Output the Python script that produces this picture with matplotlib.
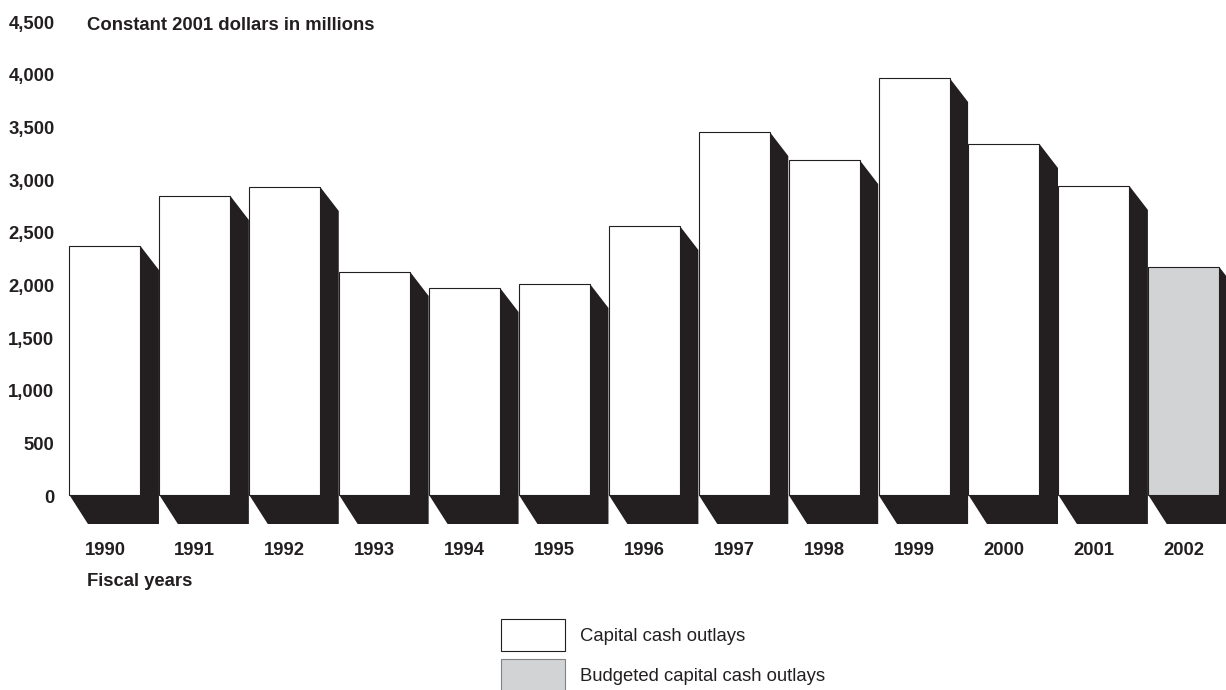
import matplotlib
matplotlib.use('Agg')
import matplotlib.pyplot as plt
import matplotlib.patches as mpatches
from matplotlib.transforms import ScaledTranslation

plt.rcParams['font.family'] = ['Liberation Sans', 'DejaVu Sans']

years = ['1990', '1991', '1992', '1993', '1994', '1995', '1996',
         '1997', '1998', '1999', '2000', '2001', '2002']
outlays = [2362, 2837, 2922, 2116, 1964, 2002, 2552,
           3444, 3178, 3956, 3330, 2932, 2163]
y_ticks = [0, 500, 1000, 1500, 2000, 2500, 3000, 3500, 4000, 4500]

DARK = '#231f20'
GREY = '#d1d3d4'
W, H = 1226, 690

# pixel scale of the original
px_per_year = 89.9
px_per_unit = 0.1054
bar_width = 71 / px_per_year
side_dx = 18.5 / px_per_year
top_dy = 24 / px_per_unit
floor_dy = 29 / px_per_unit

fig = plt.figure(figsize=(W / 100, H / 100), dpi=100)
ax = fig.add_axes([60 / W, 1 - 530 / H, (W - 60) / W, 530 / H])
ax.set_xlim(-0.5, (W - 105) / px_per_year)
ax.set_ylim(-35 / px_per_unit, 495 / px_per_unit)

colors = ['white'] * 12 + [GREY]
for i, v in enumerate(outlays):
    l = i - bar_width / 2
    r = i + bar_width / 2
    # dark extruded side and floor
    ax.fill([r, r + side_dx, r + side_dx, l + side_dx, l, r],
            [v, v - top_dy, -floor_dy, -floor_dy, 0, 0],
            color=DARK, lw=0, zorder=1)
ax.bar(range(len(years)), outlays, width=bar_width, color=colors,
       edgecolor=DARK, linewidth=0.8, zorder=2)

for s in ax.spines.values():
    s.set_visible(False)
ax.set_xticks(range(len(years)), years)
ax.set_yticks(y_ticks, [f'{t:,}' for t in y_ticks])
ax.tick_params(length=0, labelcolor=DARK, labelsize=13.3)
ax.tick_params(axis='x', pad=8.5)
ax.tick_params(axis='y', pad=4)
for lab in ax.get_xticklabels() + ax.get_yticklabels():
    lab.set_fontweight('bold')
shift = ScaledTranslation(0, -1 / 72, fig.dpi_scale_trans)
for lab in ax.get_yticklabels():
    lab.set_transform(lab.get_transform() + shift)

fig.text(87 / W, 1 - 25 / H, 'Constant 2001 dollars in millions', fontsize=13.3,
         fontweight='bold', color=DARK, va='center')
fig.text(87 / W, 1 - 582 / H, 'Fiscal years', fontsize=13.3,
         fontweight='bold', color=DARK, va='center')

handles = [mpatches.Patch(facecolor='white', edgecolor=DARK, lw=0.8, label='Capital cash outlays'),
           mpatches.Patch(facecolor=GREY, edgecolor='#808285', lw=0.8, label='Budgeted capital cash outlays')]
fig.legend(handles=handles, loc='upper left', bbox_to_anchor=(501 / W, 1 - 619 / H),
           frameon=False, borderpad=0, borderaxespad=0, fontsize=13.3, labelcolor=DARK,
           handlelength=3.47, handleheight=2.25, handletextpad=0.8, labelspacing=0.46)

fig.savefig('out.png', dpi=100)
plt.close(fig)
